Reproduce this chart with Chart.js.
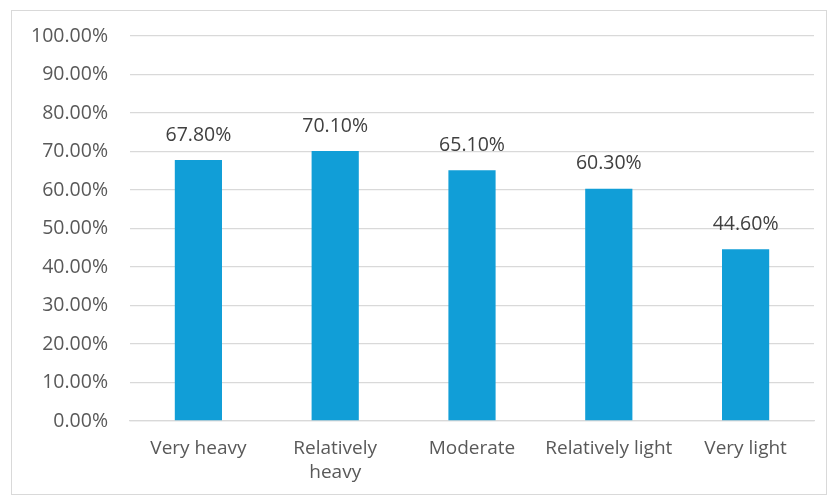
<!DOCTYPE html>
<html>
<head>
<meta charset="utf-8">
<script src="https://cdn.jsdelivr.net/npm/chart.js@4.4.0/dist/chart.umd.min.js"></script>
<style>
    body { margin: 0; background: #fff; }
    .frame {
        position: absolute; left: 11px; top: 10px;
        width: 814px; height: 483px;
        border: 1px solid #d9d9d9;
    }
</style>
</head>
<body>
<div class="frame"><canvas id="barChart" width="814" height="483"></canvas></div>
<script>
// Chart data
const categories = ['Very heavy', ['Relatively', 'heavy'], 'Moderate', 'Relatively light', 'Very light'];
const shares = [67.8, 70.1, 65.1, 60.3, 44.6];
const yTicks = [0, 10, 20, 30, 40, 50, 60, 70, 80, 90, 100];

const FONT = '"Open Sans", "Liberation Sans", sans-serif';

// Draws the value above each bar
const valueLabels = {
    id: 'valueLabels',
    afterDatasetsDraw(chart) {
        const ctx = chart.ctx;
        const meta = chart.getDatasetMeta(0);
        ctx.save();
        ctx.font = '19.5px ' + FONT;
        ctx.fillStyle = '#404040';
        ctx.textAlign = 'center';
        ctx.textBaseline = 'middle';
        meta.data.forEach((bar, i) => {
            ctx.fillText(shares[i].toFixed(2) + '%', bar.x, bar.y - 25);
        });
        ctx.restore();
    }
};

document.addEventListener('DOMContentLoaded', () => {
    const ctx = document.getElementById('barChart').getContext('2d');
    new Chart(ctx, {
        type: 'bar',
        data: {
            labels: categories,
            datasets: [{
                data: shares,
                backgroundColor: '#119ED7',
                borderWidth: 0,
                barPercentage: 0.345,
                categoryPercentage: 1
            }]
        },
        options: {
            responsive: false,
            animation: false,
            layout: { padding: { top: 25, right: 12, bottom: 0, left: 0 } },
            plugins: {
                legend: { display: false },
                tooltip: { enabled: false }
            },
            scales: {
                y: {
                    min: 0,
                    max: 100,
                    afterBuildTicks: axis => { axis.ticks = yTicks.map(v => ({ value: v })); },
                    afterFit: axis => {
                        axis.width = 118;
                        axis.paddingTop = 0;
                        axis.paddingBottom = 0;
                    },
                    grid: { color: '#d9d9d9', lineWidth: 1.3, drawTicks: false },
                    border: { display: false },
                    ticks: {
                        color: '#595959',
                        font: { family: FONT, size: 19.5 },
                        padding: 22,
                        callback: v => v.toFixed(2) + '%'
                    }
                },
                x: {
                    afterFit: axis => { axis.height = 73; },
                    grid: { display: false, drawTicks: false },
                    border: { display: true, color: '#d9d9d9', width: 1.3 },
                    ticks: {
                        color: '#595959',
                        font: { family: FONT, size: 19, lineHeight: 1.25 },
                        padding: 16,
                        maxRotation: 0,
                        autoSkip: false
                    }
                }
            }
        },
        plugins: [valueLabels]
    });
});
</script>
</body>
</html>
